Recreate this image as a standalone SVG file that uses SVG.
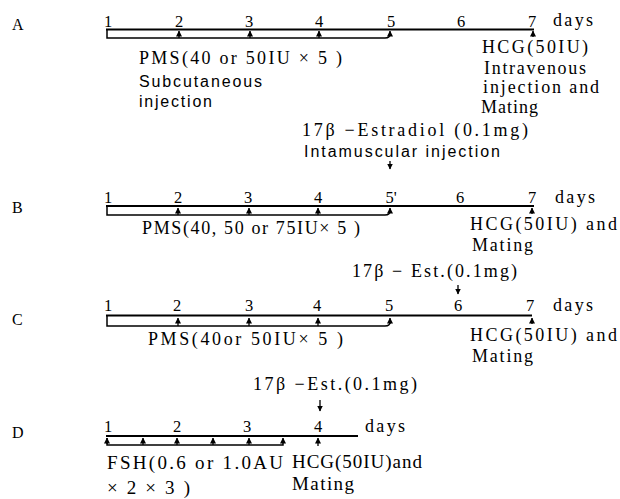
<svg xmlns="http://www.w3.org/2000/svg" width="620" height="499" viewBox="0 0 620 499">
<defs>
<marker id="ah" viewBox="0 0 6 6" refX="5.5" refY="3" markerWidth="6" markerHeight="6" markerUnits="userSpaceOnUse" orient="auto">
<path d="M0,0 L6,3 L0,6 z" fill="#000"/>
</marker>
<style>
text{fill:#000}
.s{font-family:"Liberation Serif","Times New Roman",serif;font-size:18px}
.d{font-family:"Liberation Serif","Times New Roman",serif;font-size:19px}
.n{font-family:"Liberation Serif","Times New Roman",serif;font-size:16.5px;text-anchor:middle}
.ss{font-family:"Liberation Sans",Arial,sans-serif;font-size:16px}
.lbl{font-family:"Liberation Serif","Times New Roman",serif;font-size:16px}
.ax{fill:none;stroke:#000;stroke-width:1.8}
.br{fill:none;stroke:#000;stroke-width:1.5}
.ar{fill:none;stroke:#000;stroke-width:1.3;marker-end:url(#ah)}
</style>
</defs>
<rect width="620" height="499" fill="#fff"/>

<g id="row-A">
<text class="lbl" x="12" y="30">A</text>
<text class="n" x="108" y="27">1</text><text class="n" x="179" y="27">2</text><text class="n" x="249" y="27">3</text><text class="n" x="319" y="27">4</text><text class="n" x="391" y="27">5</text><text class="n" x="461" y="27">6</text><text class="n" x="532" y="27">7</text>
<text class="s" x="553" y="26" textLength="40">days</text>
<text class="s" x="139" y="64" textLength="203" lengthAdjust="spacing">PMS(40 or 50IU × 5 )</text>
<text class="ss" x="139" y="87" textLength="123" lengthAdjust="spacing">Subcutaneous</text>
<text class="ss" x="139" y="107" textLength="73" lengthAdjust="spacing">injection</text>
<text class="s" x="482" y="53" textLength="106" lengthAdjust="spacing">HCG(50IU)</text>
<text class="s" x="484" y="74" textLength="102" lengthAdjust="spacing">Intravenous</text>
<text class="s" x="483" y="93" textLength="116" lengthAdjust="spacing">injection and</text>
<text class="s" x="481" y="113" textLength="57" lengthAdjust="spacing">Mating</text>
<text class="s" x="302" y="136" textLength="226" lengthAdjust="spacing">17β −Estradiol (0.1mg)</text>
<text class="ss" x="304" y="157" textLength="196" lengthAdjust="spacing">Intamuscular injection</text>
</g>

<g id="row-B">
<text class="lbl" x="12" y="213">B</text>
<text class="n" x="108" y="203">1</text><text class="n" x="178" y="203">2</text><text class="n" x="248" y="203">3</text><text class="n" x="318" y="203">4</text><text class="n" x="391" y="203">5'</text><text class="n" x="460" y="203">6</text><text class="n" x="532" y="203">7</text>
<text class="s" x="555" y="203" textLength="40">days</text>
<text class="s" x="142" y="234" textLength="218" lengthAdjust="spacing">PMS(40, 50 or 75IU× 5 )</text>
<text class="s" x="470" y="230" textLength="147" lengthAdjust="spacing">HCG(50IU) and</text>
<text class="s" x="472" y="251" textLength="61" lengthAdjust="spacing">Mating</text>
</g>

<g id="row-C">
<text class="lbl" x="12" y="325">C</text>
<text class="s" x="352" y="277" textLength="165" lengthAdjust="spacing">17β − Est.(0.1mg)</text>
<text class="n" x="108" y="311">1</text><text class="n" x="177" y="311">2</text><text class="n" x="249" y="311">3</text><text class="n" x="317" y="311">4</text><text class="n" x="389" y="311">5</text><text class="n" x="458" y="311">6</text><text class="n" x="530" y="311">7</text>
<text class="s" x="553" y="311" textLength="40">days</text>
<text class="s" x="148" y="345" textLength="195" lengthAdjust="spacing">PMS(40or 50IU× 5 )</text>
<text class="s" x="470" y="341" textLength="147" lengthAdjust="spacing">HCG(50IU) and</text>
<text class="s" x="472" y="362" textLength="61" lengthAdjust="spacing">Mating</text>
</g>

<g id="row-D">
<text class="lbl" x="12" y="438">D</text>
<text class="s" x="253" y="390" textLength="164" lengthAdjust="spacing">17β −Est.(0.1mg)</text>
<text class="n" x="108" y="432">1</text><text class="n" x="177" y="432">2</text><text class="n" x="247" y="432">3</text><text class="n" x="318" y="432">4</text>
<text class="s" x="365" y="432" textLength="40">days</text>
<text class="d" x="107" y="469" textLength="176" lengthAdjust="spacing">FSH(0.6 or 1.0AU</text>
<text class="d" x="107" y="494" textLength="83" lengthAdjust="spacing">× 2 × 3 )</text>
<text class="d" x="292" y="468" textLength="130" lengthAdjust="spacing">HCG(50IU)and</text>
<text class="d" x="292" y="490" textLength="62" lengthAdjust="spacing">Mating</text>
</g>

<g id="connectors">
<line class="ax" x1="106" y1="29.5" x2="534" y2="29.5"/>
<path class="br" d="M107,29.5 V38 H385 Q390,38 390,34"/>
<path class="ar" d="M390,36 V31"/>
<path class="ar" d="M179,38 V31"/>
<path class="ar" d="M250,38 V31"/>
<path class="ar" d="M319,38 V31"/>
<path class="ar" d="M533,37 V31"/>
<path class="ar" d="M390,161 V169"/>
<line class="ax" x1="106" y1="206" x2="534" y2="206"/>
<path class="br" d="M107,206 V215 H385 Q390,215 390,211"/>
<path class="ar" d="M390,213 V208"/>
<path class="ar" d="M178,215 V208"/>
<path class="ar" d="M249,215 V208"/>
<path class="ar" d="M318,215 V208"/>
<path class="ar" d="M532,214 V208"/>
<path class="ar" d="M458,285 V294"/>
<line class="ax" x1="106" y1="315.5" x2="532" y2="315.5"/>
<path class="br" d="M107,315.5 V326 H385 Q390,326 390,322"/>
<path class="ar" d="M390,324 V318"/>
<path class="ar" d="M178,326 V318"/>
<path class="ar" d="M249,326 V318"/>
<path class="ar" d="M318,326 V318"/>
<path class="ar" d="M532,324 V318"/>
<path class="ar" d="M320,400 V411"/>
<line class="ax" x1="106" y1="436" x2="358" y2="436"/>
<path class="br" d="M107,438 V445 H283 V440"/>
<path class="ar" d="M107,444 V438"/>
<path class="ar" d="M143,445 V438"/>
<path class="ar" d="M177,445 V438"/>
<path class="ar" d="M213,445 V438"/>
<path class="ar" d="M249,445 V438"/>
<path class="ar" d="M283,443 V438"/>
<path class="ar" d="M318,446 V438"/>
</g>
</svg>
